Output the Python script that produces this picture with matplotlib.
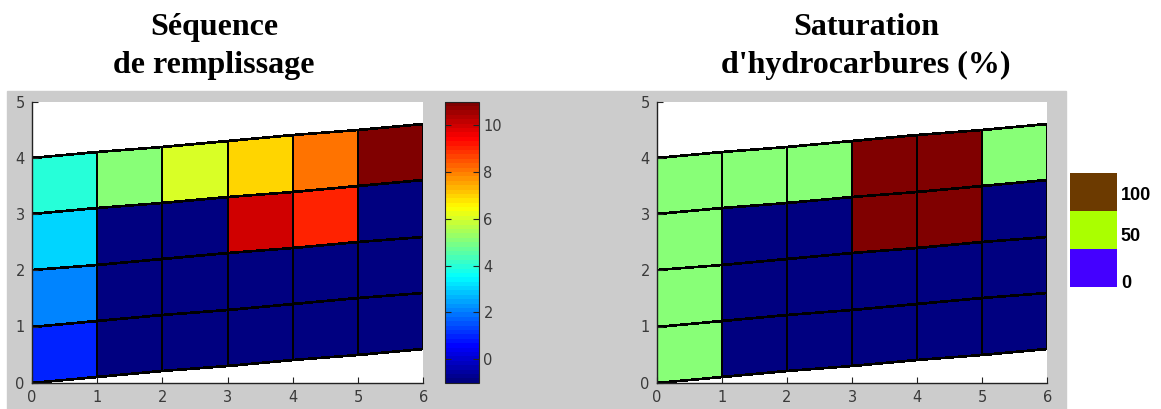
import matplotlib
matplotlib.use('Agg')
import matplotlib.pyplot as plt
import numpy as np
from matplotlib.patches import Rectangle
from matplotlib.colors import LinearSegmentedColormap

# cell corners: 6 columns x 4 layers, layer boundaries dip 0.1 per unit x
x_nodes = [0, 1, 2, 3, 4, 5, 6]
y_nodes = [0, 1, 2, 3, 4]
dip = 0.1

# rows bottom -> top, columns left -> right ; -1 = never filled
sequence = [
    [1, -1, -1, -1, -1, -1],
    [2, -1, -1, -1, -1, -1],
    [3, -1, -1, 10, 9, -1],
    [4, 5, 6, 7, 8, 11],
]
saturation = [
    [50, 0, 0, 0, 0, 0],
    [50, 0, 0, 0, 0, 0],
    [50, 0, 0, 100, 100, 0],
    [50, 50, 50, 100, 100, 50],
]
cbar_ticks = [0, 2, 4, 6, 8, 10]
legend_values = [0, 50, 100]
legend_colors = ['#4400ff', '#aaff00', '#6c3a00']

W, H = 1161, 409
fig = plt.figure(figsize=(W / 100, H / 100), dpi=100)
fig.patch.set_facecolor('white')
fig.patches.append(Rectangle((7 / W, 0), (1066 - 7) / W, (409 - 91) / H,
                             transform=fig.transFigure, color='#cccccc', zorder=-5))

# matlab style jet(64)
jet_seg = {
    'red': [(0, 0, 0), (0.375, 0, 0), (0.625, 1, 1), (0.875, 1, 1), (1, 0.5, 0.5)],
    'green': [(0, 0, 0), (0.125, 0, 0), (0.375, 1, 1), (0.625, 1, 1), (0.875, 0, 0), (1, 0, 0)],
    'blue': [(0, 0.5, 0.5), (0.125, 1, 1), (0.375, 1, 1), (0.625, 0, 0), (1, 0, 0)],
}
jet = LinearSegmentedColormap('mjet', jet_seg, N=64)

X, Y = np.meshgrid(x_nodes, y_nodes)
Y = Y + dip * X
tick_col = '#3a3a3a'


def grid_axes(rect, values, vmin, vmax):
    ax = fig.add_axes(rect)
    m = ax.pcolormesh(X, Y, np.array(values), cmap=jet, vmin=vmin, vmax=vmax,
                      edgecolors='k', linewidth=1.2)
    ax.set_xlim(0, 6)
    ax.set_ylim(0, 5)
    ax.set_xticks(x_nodes)
    ax.set_yticks(range(6))
    ax.spines['top'].set_visible(False)
    ax.spines['right'].set_visible(False)
    for s in ('left', 'bottom'):
        ax.spines[s].set_color('#222222')
        ax.spines[s].set_linewidth(1.0)
    ax.tick_params(direction='in', length=4, labelsize=10.5, labelcolor=tick_col,
                   color='#222222', pad=5)
    return ax, m


bot = (409 - 382.7) / H
hgt = 281 / H
ax1, m1 = grid_axes([31.7 / W, bot, 391.6 / W, hgt], sequence, -1, 11)
ax2, m2 = grid_axes([656.7 / W, bot, 390.6 / W, hgt], saturation, 0, 100)

cax = fig.add_axes([445 / W, bot, 34.3 / W, hgt])
cb = fig.colorbar(m1, cax=cax, ticks=cbar_ticks)
cb.outline.set_edgecolor('#222222')
cax.tick_params(direction='in', length=4, left=True, right=True, labelsize=10.5,
                labelcolor=tick_col, color='#222222', pad=3)

# separate legend for saturation
lax = fig.add_axes([1070 / W, (409 - 287) / H, 47 / W, 114 / H])
for i, (v, c) in enumerate(zip(legend_values, legend_colors)):
    lax.bar(0.5, 1, bottom=i, width=1, color=c)
    lax.text(1.08, i + [0.1, 0.32, 0.42][i], str(v), ha='left', va='center',
             fontsize=13, fontweight='bold', family='Liberation Sans')
lax.set_xlim(0, 1)
lax.set_ylim(0, 3)
lax.axis('off')

tf = dict(family='Liberation Serif', fontweight='bold', fontsize=23,
          ha='center', va='baseline')
fig.text(214 / W, 1 - 35 / H, 'Séquence', **tf)
fig.text(214 / W, 1 - 72.7 / H, 'de remplissage', **tf)
fig.text(866 / W, 1 - 35 / H, 'Saturation', **tf)
fig.text(866 / W, 1 - 72.7 / H, "d'hydrocarbures (%)", **tf)

fig.savefig('out.png', dpi=100)
